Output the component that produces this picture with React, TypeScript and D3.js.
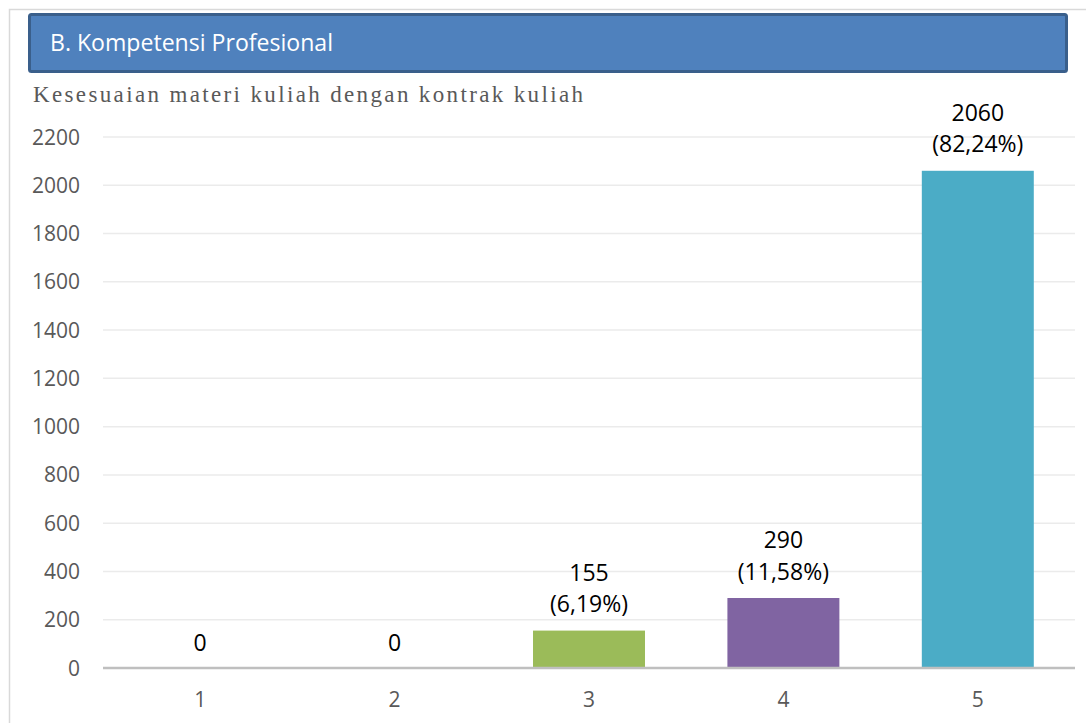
import React from "react";
import * as d3 from "d3";

const categories = ["1", "2", "3", "4", "5"];
const counts = [0, 0, 155, 290, 2060];
const percents = ["", "", "(6,19%)", "(11,58%)", "(82,24%)"];
const barColors = ["#4f81bd", "#c0504d", "#9bbb59", "#8064a2", "#4bacc6"];
const yTicks = [0, 200, 400, 600, 800, 1000, 1200, 1400, 1600, 1800, 2000, 2200];
const headerTitle = "B. Kompetensi Profesional";
const subTitle = "Kesesuaian materi kuliah dengan kontrak kuliah";

const W = 1086;
const H = 723;

export default function App() {
  const x = d3.scaleBand<string>().domain(categories).range([103, 1075]).paddingInner(0.424).paddingOuter(0.212);
  const y = d3.scaleLinear().domain([0, 2200]).range([668, 137]);
  const font = "'Open Sans', 'Liberation Sans', sans-serif";

  return (
    <svg width={W} height={H} style={{ position: "absolute", left: 0, top: 0, background: "#fff" }}>
      <rect x={9.5} y={9.5} width={1100} height={730} fill="#fff" stroke="#d9d9d9" strokeWidth={1.5} />
      <rect x={29.5} y={14.5} width={1037} height={57} rx={2} fill="#4f81bd" stroke="#3a5f8b" strokeWidth={3} />
      <text x={50} y={51} fill="#fff" fontFamily={font} fontSize={23} textLength={283} lengthAdjust="spacingAndGlyphs">{headerTitle}</text>
      <text x={33} y={102} fill="#595959" fontFamily="'Liberation Serif', 'DejaVu Serif', serif" fontSize={23}
        textLength={550} lengthAdjust="spacing">{subTitle}</text>

      {yTicks.filter(t => t > 0).map(t => (
        <line key={"g" + t} x1={103} x2={1075} y1={y(t)} y2={y(t)} stroke="#ebebeb" strokeWidth={1.5} />
      ))}
      {yTicks.map(t => (
        <text key={"yl" + t} x={80} y={y(t)} dy="0.36em" textAnchor="end" fill="#595959" fontFamily={font} fontSize={21}>{t}</text>
      ))}

      {categories.map((c, i) => (
        <rect key={"b" + c} x={x(c)} y={y(counts[i])} width={x.bandwidth()} height={668 - y(counts[i])} fill={barColors[i]} />
      ))}

      <line x1={103} x2={1075} y1={668} y2={668} stroke="#bfbfbf" strokeWidth={2.5} />

      {categories.map((c, i) => {
        const cx = (x(c) as number) + x.bandwidth() / 2;
        const top = y(counts[i]);
        if (counts[i] === 0) {
          return <text key={"l" + c} x={cx} y={top - 17} textAnchor="middle" fill="#000" fontFamily={font} fontSize={23}>{counts[i]}</text>;
        }
        return (
          <g key={"l" + c}>
            <text x={cx} y={top - 50} textAnchor="middle" fill="#000" fontFamily={font} fontSize={23}>{counts[i]}</text>
            <text x={cx} y={top - 18.5} textAnchor="middle" fill="#000" fontFamily={font} fontSize={23}>{percents[i]}</text>
          </g>
        );
      })}

      {categories.map(c => (
        <text key={"x" + c} x={(x(c) as number) + x.bandwidth() / 2} y={707} textAnchor="middle" fill="#595959" fontFamily={font} fontSize={21}>{c}</text>
      ))}
    </svg>
  );
}
